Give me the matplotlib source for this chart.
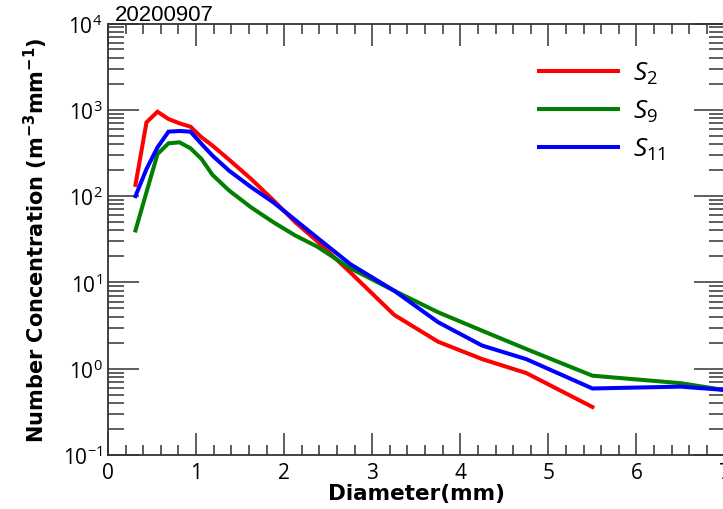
import matplotlib
matplotlib.use("Agg")
import matplotlib.pyplot as plt
from matplotlib.ticker import LogLocator, MultipleLocator, NullFormatter
import numpy as np

plt.rcParams['mathtext.fontset'] = 'custom'
plt.rcParams['mathtext.rm'] = 'Open Sans'
plt.rcParams['mathtext.it'] = 'Open Sans:italic'
plt.rcParams['mathtext.bf'] = 'DejaVu Sans:bold'
plt.rcParams['axes.unicode_minus'] = False
plt.rcParams['font.family'] = ['Open Sans', 'DejaVu Sans']

title = "20200907"
diameter = [0.312, 0.437, 0.562, 0.687, 0.812, 0.937, 1.062, 1.187, 1.375, 1.625,
            1.875, 2.125, 2.375, 2.75, 3.25, 3.75, 4.25, 4.75, 5.5, 6.5, 7.5]
s2 = [135, 716, 950, 782, 697, 637, 480, 384, 264, 158,
      90, 50, 30, 13.1, 4.2, 2.05, 1.29, 0.89, 0.36]
s9 = [40, 111, 307, 409, 420, 358, 269, 176, 116, 74,
      50, 35, 26, 14.6, 8.0, 4.5, 2.75, 1.69, 0.83, 0.68, 0.47]
s11 = [100, 206, 367, 558, 568, 558, 402, 294, 197, 127,
       85, 53, 33, 16.3, 8.0, 3.45, 1.85, 1.29, 0.59, 0.62, 0.52]
labels = [r'$\mathit{S}_{2}$', r'$\mathit{S}_{9}$', r'$\mathit{S}_{11}$']
colors = ['#ff0000', '#007f00', '#0000ff']

fig = plt.figure(figsize=(7.23, 5.10), dpi=100)
ax = fig.add_axes([108/723, 1-456/510, (724.5-108)/723, (456-24.5)/510])

for ys, lab, c in zip([s2, s9, s11], labels, colors):
    ax.plot(diameter[:len(ys)], ys, color=c, lw=2.9, label=lab, solid_joinstyle='miter')

ax.set_yscale('log')
ax.set_xlim(0, 7)
ax.set_ylim(0.1, 1e4)

ax.xaxis.set_major_locator(MultipleLocator(1))
ax.xaxis.set_minor_locator(MultipleLocator(0.2))
ax.yaxis.set_major_locator(LogLocator(base=10, numticks=10))
ax.yaxis.set_minor_locator(LogLocator(base=10, subs=np.arange(2, 10), numticks=20))
ax.yaxis.set_minor_formatter(NullFormatter())

spine_c = '#333333'
for s in ax.spines.values():
    s.set_color(spine_c)
    s.set_linewidth(1.3)

ax.tick_params(axis='x', which='major', direction='in', length=15.8, width=1.1, color=spine_c,
               top=True, bottom=True, labelsize=15, pad=5)
ax.tick_params(axis='x', which='minor', direction='in', length=7.5, width=1.1, color=spine_c,
               top=True, bottom=True)
ax.tick_params(axis='y', which='major', direction='in', length=22, width=1.1, color=spine_c,
               left=True, right=True, labelsize=15, pad=4)
ax.tick_params(axis='y', which='minor', direction='in', length=11.5, width=1.1, color=spine_c,
               left=True, right=True)

ax.set_xlabel('Diameter(mm)', fontsize=15.5, fontweight='bold', family='DejaVu Sans', labelpad=0)
ax.set_ylabel(r'Number Concentration (m$^{\mathbf{-3}}$mm$^{\mathbf{-1}}$)', fontsize=15,
              fontweight='bold', family='DejaVu Sans', labelpad=9)

fig.text(115/723, 1-21/510, title, fontsize=16, family='Liberation Sans', va='baseline')

leg = ax.legend(loc='upper left', bbox_to_anchor=(539/723, 1-61/510),
                bbox_transform=fig.transFigure, frameon=False, fontsize=19,
                handlelength=3.0, handletextpad=0.55, labelspacing=0.45,
                borderpad=0, borderaxespad=0)

fig.savefig('out.png', dpi=100)
